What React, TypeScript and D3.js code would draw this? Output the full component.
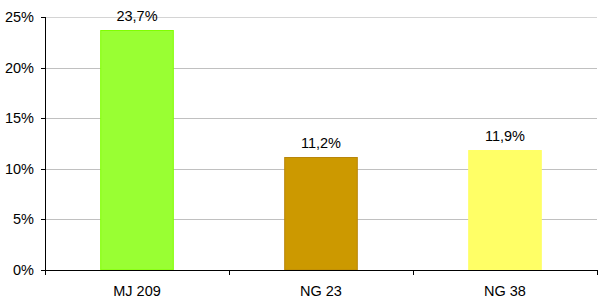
import React from "react";
import * as d3 from "d3";

const categories = ["MJ 209", "NG 23", "NG 38"];
const values = [23.7, 11.2, 11.9];
const valueLabels = ["23,7%", "11,2%", "11,9%"];
const fills = ["#99ff33", "#cc9900", "#ffff66"];
const strokes = ["#80ff00", "#b8860b", "#ffff66"];
const yTicks = [0, 5, 10, 15, 20, 25];

export default function App() {
  const W = 600, H = 302;
  const left = 45, right = 597, top = 17, bottom = 270;
  const x = d3.scaleBand<string>().domain(categories).range([left, right]).paddingInner(0).paddingOuter(0);
  const y = d3.scaleLinear().domain([0, 25]).range([bottom, top]);
  const bw = x.bandwidth() * 0.4;
  const font = "'Liberation Sans', Arial, sans-serif";
  const fs = 14.5;
  return (
    <svg width={W} height={H} style={{ position: "absolute", left: 0, top: 0, background: "#fff" }} fontFamily={font}>
      {yTicks.map((t) => (
        <g key={t}>
          {t > 0 && (
            <line x1={left} x2={right} y1={Math.round(y(t)) + 0.5} y2={Math.round(y(t)) + 0.5} stroke={t === 25 ? "#d4d4d4" : "#c0c0c0"} strokeWidth={1} />
          )}
          <line x1={left - 4} x2={left} y1={Math.round(y(t)) + 0.5} y2={Math.round(y(t)) + 0.5} stroke="#000" />
          <text x={34} y={y(t) + 5} textAnchor="end" fontSize={fs} fill="#000">{t}%</text>
        </g>
      ))}
      {categories.map((c, i) => {
        const cx = (x(c) as number) + x.bandwidth() / 2;
        const yt = y(values[i]);
        return (
          <g key={c}>
            <rect x={cx - bw / 2 + 0.5} y={Math.round(yt) + 0.5} width={bw - 1} height={bottom - Math.round(yt) - 0.5} fill={fills[i]} stroke={strokes[i]} strokeWidth={1} />
            <text x={cx} y={yt - 9} textAnchor="middle" fontSize={fs} fill="#000">{valueLabels[i]}</text>
            <text x={cx} y={296} textAnchor="middle" fontSize={fs} fill="#000">{c}</text>
          </g>
        );
      })}
      <line x1={left + 0.5} x2={left + 0.5} y1={top} y2={bottom + 0.5} stroke="#000" />
      <line x1={left} x2={right} y1={bottom + 0.5} y2={bottom + 0.5} stroke="#000" />
      {[...categories.map((c) => x(c) as number), right].map((v, i) => (
        <line key={i} x1={Math.round(v) + 0.5} x2={Math.round(v) + 0.5} y1={bottom} y2={bottom + 5} stroke="#000" />
      ))}
    </svg>
  );
}
